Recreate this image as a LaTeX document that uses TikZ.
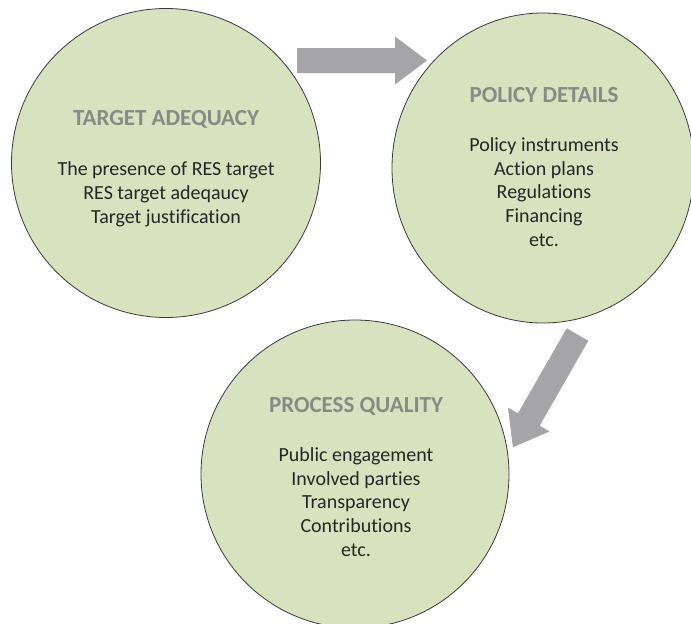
\documentclass[tikz,border=0pt]{standalone}
\usepackage{fontspec}
\setmainfont{Carlito}[Ligatures=NoCommon]
\usetikzlibrary{shapes.geometric}
\definecolor{bubblefill}{HTML}{D7E3BF}
\definecolor{bubbleline}{HTML}{3A3A3A}
\definecolor{titlegray}{HTML}{878A85}
\definecolor{bodytext}{HTML}{262626}
\definecolor{arrowgray}{HTML}{A5A5A8}
\tikzset{
  bubble/.style={ellipse, draw=bubbleline, line width=0.8pt, fill=bubblefill, inner sep=0pt},
  bubbletitle/.style={font=\fontsize{23}{27}\selectfont\bfseries, text=titlegray, anchor=base, inner sep=0pt},
  bubblebody/.style={font=\fontsize{20}{23.6}\selectfont, text=bodytext, align=center, anchor=base, inner sep=0pt},
  blockarrow/.style={fill=arrowgray}
}
\begin{document}
\begin{tikzpicture}[x=1pt,y=1pt]
\path[use as bounding box] (0,0) rectangle (691,-624);
% circles
\node[bubble, minimum width=309, minimum height=309] (target) at (166,-163) {};
\node[bubble, minimum width=302, minimum height=310] (policy) at (543,-168) {};
\node[bubble, minimum width=308, minimum height=308] (process) at (355,-474) {};
% arrows
\coordinate (a1) at (297,-60.5);
\coordinate (a2) at (577.5,-334.5);
\begin{scope}[shift={(a1)}]
  \fill[blockarrow] (0,12.5) -- (98,12.5) -- (98,24) -- (130,0) -- (98,-24) -- (98,-12.5) -- (0,-12.5) -- cycle;
\end{scope}
\begin{scope}[shift={(a2)}, rotate=-119.8]
  \fill[blockarrow] (0,12.5) -- (98,12.5) -- (98,24) -- (130,0) -- (98,-24) -- (98,-12.5) -- (0,-12.5) -- cycle;
\end{scope}
% texts (body nodes anchored at the baseline of their last line)
\node[bubbletitle] (t1) at (166,-125) {TARGET ADEQUACY};
\node[bubblebody] (b1) at (166,-223) {The presence of RES target\\RES target adeqaucy\\Target justification};
\node[bubbletitle] (t2) at (544,-102) {POLICY DETAILS};
\node[bubblebody] (b2) at (544,-246) {Policy instruments\\Action plans\\Regulations\\Financing\\etc.};
\node[bubbletitle] (t3) at (356,-412) {PROCESS QUALITY};
\node[bubblebody] (b3) at (356,-556) {Public engagement\\Involved parties\\Transparency\\Contributions\\etc.};
\end{tikzpicture}
\end{document}
